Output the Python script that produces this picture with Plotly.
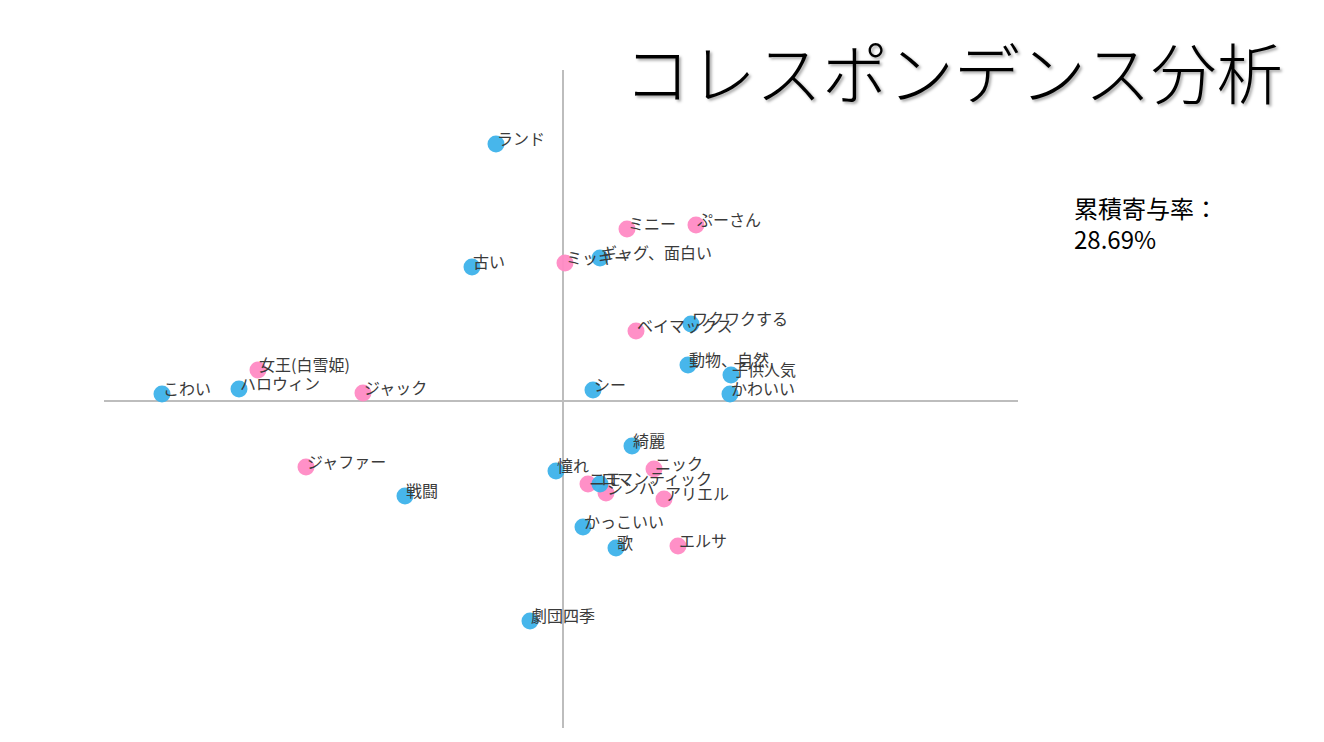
import plotly.graph_objects as go

# Blue (attributes / words)
blue_labels = ["ランド", "古い", "ギャグ、面白い", "ワクワクする", "動物、自然", "子供人気",
               "かわいい", "シー", "こわい", "ハロウィン", "綺麗", "憧れ", "ロマンティック",
               "戦闘", "かっこいい", "歌", "劇団四季"]
blue_x = [-0.67, -0.91, 0.37, 1.28, 1.25, 1.68, 1.67, 0.30, -4.01, -3.24, 0.69, -0.07, 0.37,
          -1.58, 0.20, 0.53, -0.33]
blue_y = [2.57, 1.34, 1.43, 0.77, 0.36, 0.26, 0.07, 0.11, 0.07, 0.12, -0.45, -0.70, -0.83,
          -0.95, -1.26, -1.47, -2.20]

# Pink (characters)
pink_labels = ["ミニー", "ぷーさん", "ミッキー", "ベイマックス", "女王(白雪姫)", "ジャック",
               "ジャファー", "ニック", "ニモ", "シンバ", "アリエル", "エルサ"]
pink_x = [0.64, 1.33, 0.02, 0.73, -3.05, -2.00, -2.57, 0.91, 0.25, 0.43, 1.01, 1.15]
pink_y = [1.72, 1.76, 1.38, 0.70, 0.31, 0.08, -0.66, -0.68, -0.83, -0.92, -0.98, -1.45]

title_text = "コレスポンデンス分析"
contrib_text = "累積寄与率：<br>28.69%"

BLUE = "#3DB2EA"
PINK = "#FF8AC4"
FONT = "Noto Sans CJK JP, Noto Sans, sans-serif"

fig = go.Figure()
fig.add_trace(go.Scatter(x=pink_x, y=pink_y, mode="markers",
                         marker=dict(size=17, color=PINK, opacity=0.95, line=dict(width=0)),
                         hoverinfo="text", text=pink_labels, showlegend=False))
fig.add_trace(go.Scatter(x=blue_x, y=blue_y, mode="markers",
                         marker=dict(size=17, color=BLUE, opacity=0.95, line=dict(width=0)),
                         hoverinfo="text", text=blue_labels, showlegend=False))

annotations = []
for lx, ly, lt in list(zip(blue_x, blue_y, blue_labels)) + list(zip(pink_x, pink_y, pink_labels)):
    annotations.append(dict(x=lx, y=ly, xref="x", yref="y", text=lt, showarrow=False,
                            xanchor="left", yanchor="middle", xshift=-1, yshift=6,
                            font=dict(family=FONT, size=16, color="#3A3A3A")))

annotations.append(dict(x=1285 / 1324, y=1 - 70 / 742, xref="paper", yref="paper",
                        text=title_text, showarrow=False, xanchor="right", yanchor="middle",
                        font=dict(family=FONT, size=66, color="#000000", weight=300,
                                  shadow="2px 2px 3px rgba(0,0,0,0.35)")))
annotations.append(dict(x=1072 / 1324, y=1 - 188 / 742, xref="paper", yref="paper",
                        text=contrib_text, showarrow=False, xanchor="left", yanchor="top",
                        align="left",
                        font=dict(family=FONT, size=24, color="#000000")))

fig.update_layout(
    width=1324, height=742,
    margin=dict(l=0, r=0, t=0, b=0),
    paper_bgcolor="white", plot_bgcolor="white",
    xaxis=dict(domain=[104 / 1324, 1018 / 1324], range=[-4.59, 4.55],
               showgrid=False, showticklabels=False, ticks="",
               zeroline=True, zerolinecolor="#BDBDBD", zerolinewidth=2, showline=False),
    yaxis=dict(domain=[14 / 742, 672 / 742], range=[-3.27, 3.31],
               showgrid=False, showticklabels=False, ticks="",
               zeroline=True, zerolinecolor="#BDBDBD", zerolinewidth=2, showline=False),
    annotations=annotations,
)

fig.write_html("out.html")
